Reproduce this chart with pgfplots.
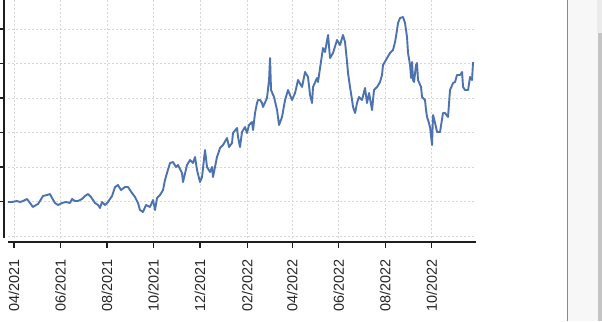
\documentclass[border=0pt]{standalone}
\usepackage{fontspec}
\setmainfont{Liberation Sans}
\usepackage{pgfplots}
\pgfplotsset{compat=1.18}
\definecolor{lineblue}{RGB}{76,114,176}
\definecolor{gridgray}{RGB}{215,215,215}
\definecolor{axisdark}{RGB}{30,30,30}
\definecolor{panelline}{RGB}{125,140,170}
\begin{document}
\begin{tikzpicture}[x=1bp,y=1bp]
\useasboundingbox (0,0) rectangle (602,321);
\fill[white] (0,0) rectangle (602,321);
\fill[black!3] (568,0) rectangle (602,321);
\fill[black!8] (597,288) rectangle (602,321);
\fill[black!23] (597.5,0) rectangle (602,288);
\draw[panelline, line width=1bp] (567.5,0) -- (567.5,321);
\begin{axis}[
  at={(8bp,83bp)}, anchor=south west, scale only axis,
  width=468bp, height=238bp,
  xmin=-7.87, xmax=606.1, ymin=-0.058, ymax=6.841,
  axis line style={draw=none}, tick style={draw=none},
  xtick={0,61,122,183,244,306,365,426,487,548},
  xticklabels={04/2021,06/2021,08/2021,10/2021,12/2021,02/2022,04/2022,06/2022,08/2022,10/2022},
  ytick={0,1,2,3,4,5,6}, yticklabels={},
  grid=major,
  grid style={gridgray, dash pattern=on 2bp off 2bp, line width=0.9bp},
  xticklabel style={rotate=90, anchor=east, inner sep=0pt, font=\fontsize{14.5}{14.5}\selectfont, text=black!85},
  xticklabel shift=21bp,
]
\addplot[lineblue, line width=1.9bp, line join=round] coordinates {
(-7.9,0.986) (-2.6,0.986) (3.9,1.014) (7.9,0.986) (11.8,1.014) (17.1,1.072) (21.0,0.957) (24.9,0.841) (28.9,0.899) (31.5,0.928) (34.1,1.014) (38.0,1.159) (43.3,1.188) (47.2,1.217) (49.9,1.101) (53.8,0.957) (57.7,0.899) (63.0,0.957) (68.2,0.986) (73.5,0.957) (76.1,1.072) (80.0,1.014) (84.0,1.014) (89.2,1.072) (93.2,1.159) (97.1,1.217) (101.0,1.130) (106.3,0.957) (110.2,0.899) (112.8,0.812) (115.5,0.986) (119.4,0.899) (123.3,0.986) (128.6,1.159) (132.5,1.420) (136.4,1.478) (140.4,1.333) (145.6,1.420) (149.6,1.420) (154.8,1.246) (158.8,1.130) (162.7,0.957) (165.3,0.754) (169.2,0.696) (173.2,0.899) (178.4,0.841) (182.4,1.043) (185.0,0.754) (187.6,1.101) (191.6,1.188) (195.5,1.333) (198.1,1.623) (200.7,1.826)
(204.7,2.116) (208.6,2.145) (212.5,2.000) (215.2,2.058) (220.4,1.826) (221.7,1.565) (227.0,2.058) (230.9,2.203) (234.8,2.116) (237.5,2.290) (240.1,1.913) (244.0,1.565) (246.7,1.710) (250.6,2.493) (253.2,2.000) (257.2,1.855) (259.8,2.000) (261.1,1.710) (266.3,2.290) (270.3,2.551) (274.2,2.638) (279.5,2.841) (282.1,2.580) (286.0,2.696) (287.3,2.986) (292.6,3.130) (293.9,2.870) (296.5,2.580) (299.1,3.014) (303.1,3.159) (305.7,2.986) (308.3,3.217) (312.3,3.304) (313.6,3.072) (316.2,3.565) (318.8,3.855) (320.1,3.942)
(322.8,3.942) (325.4,3.855) (326.7,3.739) (331.9,4.000) (334.6,4.522) (335.9,5.159) (337.2,4.232) (341.1,4.029) (345.1,3.652) (347.7,3.217) (351.6,3.449) (355.6,3.942) (359.5,4.232) (364.7,3.942) (368.7,4.145) (372.6,4.522) (377.9,4.319) (381.8,4.754) (385.7,4.609) (388.4,4.087) (391.0,3.855) (392.3,4.319) (397.5,4.580) (398.8,4.464) (401.5,4.870) (405.4,5.449) (408.0,5.333) (412.0,5.826) (414.6,5.159) (418.5,5.304) (423.8,5.681) (427.7,5.536) (431.6,5.826) (434.3,5.623) (436.9,5.043) (438.2,4.725) (440.8,4.319) (443.5,3.942) (444.8,3.739) (447.4,3.565) (450.0,3.855) (452.6,4.029) (456.6,3.942) (460.5,4.290) (463.1,3.855) (465.8,4.145) (469.7,3.652) (472.3,4.232) (476.3,4.319) (480.2,4.464) (482.8,4.667) (484.1,4.957) (489.4,5.159) (493.3,5.304) (497.2,5.391) (499.9,5.623) (502.5,5.971) (503.8,6.174) (506.4,6.319)
(510.4,6.348) (513.0,6.174) (515.6,5.768) (516.9,5.304) (519.6,4.957) (520.9,4.580) (522.2,5.043) (523.5,4.522) (524.8,4.464) (527.4,4.957) (528.7,5.014) (530.0,4.522) (534.0,4.319) (535.3,4.029) (539.2,3.942) (540.5,3.652) (541.9,3.449) (543.2,3.362) (545.8,3.159) (548.4,2.638) (549.7,3.507) (552.4,3.275) (555.0,3.014) (558.9,3.014) (562.8,3.565) (565.5,3.565) (569.4,3.449) (572.0,4.232) (576.0,4.435) (578.6,4.464) (581.2,4.667) (585.2,4.667) (587.8,4.754) (589.1,4.319) (591.7,4.232) (595.7,4.232) (598.3,4.609) (600.9,4.522) (602.2,5.043)
};
\end{axis}
\draw[axisdark, line width=1.4bp] (4,83) -- (4,321);
\foreach \y in {119.5,154,188.5,223,257.5,292} \draw[axisdark, line width=1.3bp] (0,\y) -- (4,\y);
\draw[axisdark, line width=1.4bp] (8,79) -- (476,79);
\foreach \x in {14,60.5,107,153.5,200,247.2,292.2,338.7,385.2,431.7} \draw[axisdark, line width=1.3bp] (\x,79) -- (\x,73);
\end{tikzpicture}
\end{document}
